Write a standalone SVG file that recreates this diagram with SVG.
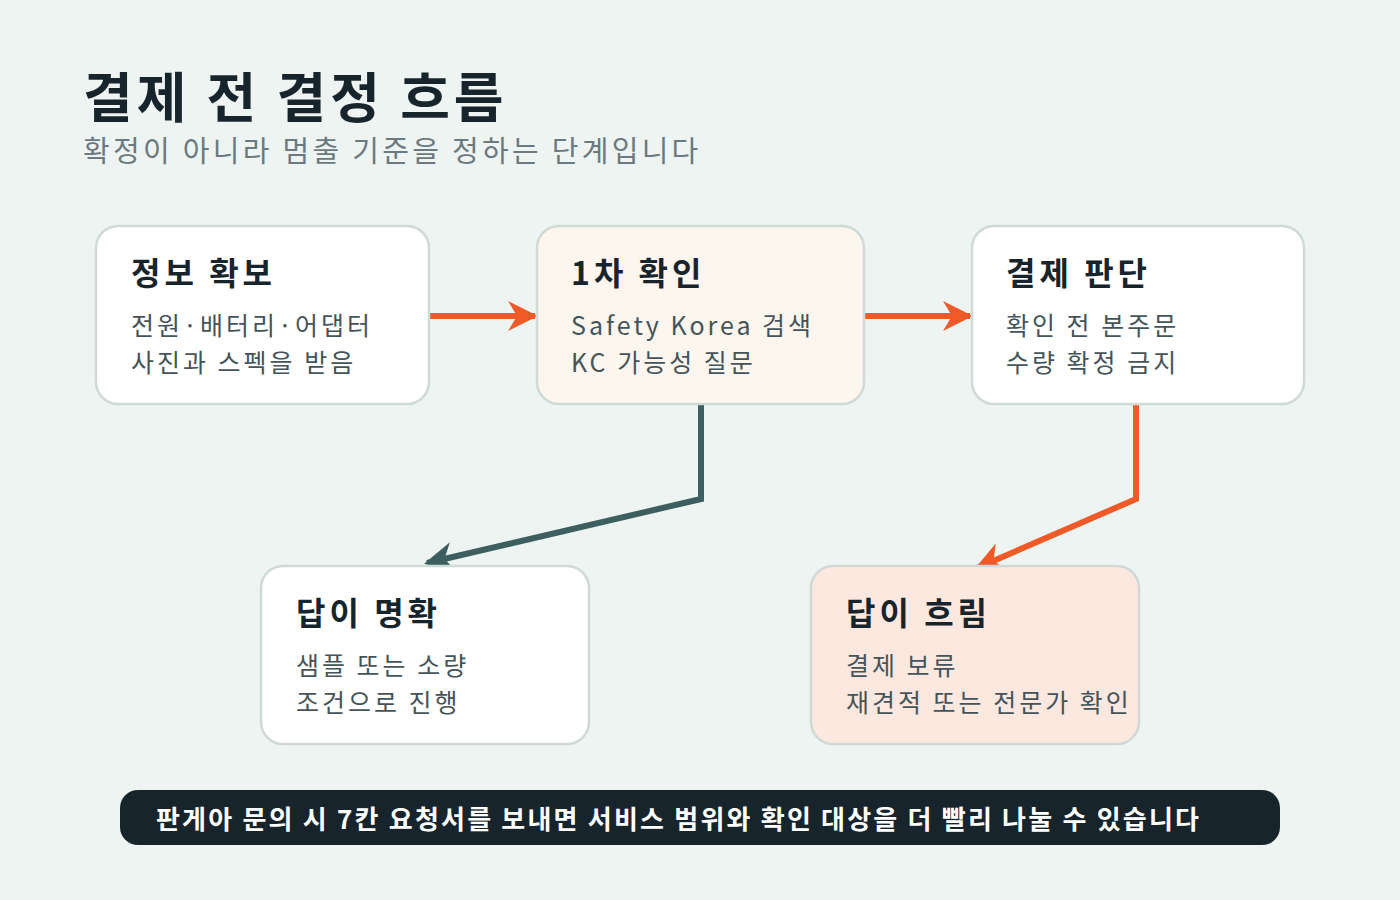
<svg xmlns="http://www.w3.org/2000/svg" width="1400" height="900" viewBox="0 0 1400 900">
<style>
text{font-family:"Noto Sans CJK KR","Noto Sans",sans-serif}
.t{font-size:32px;font-weight:700;fill:#18242c;letter-spacing:4px}
.l{font-size:25px;fill:#44545a;letter-spacing:3px}
.box{stroke:#cfd9d6;stroke-width:2.5}
.or{stroke:#f05a28;stroke-width:6;fill:none}
.te{stroke:#3d5f5f;stroke-width:6;fill:none}
</style>
<defs>
<marker id="ao" viewBox="0 0 10 10" refX="9" refY="5" markerWidth="5" markerHeight="5" orient="auto" markerUnits="strokeWidth"><path d="M0,0L10,5L0,10L3,5z" fill="#f05a28"/></marker>
<marker id="at" viewBox="0 0 10 10" refX="9" refY="5" markerWidth="5" markerHeight="5" orient="auto" markerUnits="strokeWidth"><path d="M0,0L10,5L0,10L3,5z" fill="#3d5f5f"/></marker>
</defs>
<rect width="1400" height="900" fill="#eef4f1"/>
<text x="83" y="118" font-size="54" font-weight="700" fill="#18242c" letter-spacing="4">결제 전 결정 흐름</text>
<text x="83" y="162" font-size="29" fill="#6b7a80" letter-spacing="3.3">확정이 아니라 멈출 기준을 정하는 단계입니다</text>
<g id="connectors">
<path class="or" d="M429,316H535" marker-end="url(#ao)"/>
<path class="or" d="M864,316H970" marker-end="url(#ao)"/>
<path class="te" d="M701,404V499L427,563" marker-end="url(#at)"/>
<path class="or" d="M1136,404V499L977,568" marker-end="url(#ao)"/>
</g>
<g id="n1"><rect class="box" x="96" y="226" width="333" height="178" rx="22" fill="#fff"/>
<text class="t" x="131" y="285">정보 확보</text><text class="l" x="131" y="335">전원·배터리·어댑터</text><text class="l" x="131" y="372">사진과 스펙을 받음</text></g>
<g id="n2"><rect class="box" x="537" y="226" width="327" height="178" rx="22" fill="#fdf6ee"/>
<text class="t" x="571" y="285">1차 확인</text><text class="l" x="571" y="335" letter-spacing="1">Safety Korea 검색</text><text class="l" x="571" y="372">KC 가능성 질문</text></g>
<g id="n3"><rect class="box" x="972" y="226" width="332" height="178" rx="22" fill="#fff"/>
<text class="t" x="1006" y="285">결제 판단</text><text class="l" x="1006" y="335">확인 전 본주문</text><text class="l" x="1006" y="372">수량 확정 금지</text></g>
<g id="n4"><rect class="box" x="261" y="566" width="328" height="178" rx="22" fill="#fff"/>
<text class="t" x="296" y="625">답이 명확</text><text class="l" x="296" y="675">샘플 또는 소량</text><text class="l" x="296" y="712">조건으로 진행</text></g>
<g id="n5"><rect class="box" x="811" y="566" width="328" height="178" rx="22" fill="#fde8e0"/>
<text class="t" x="846" y="625">답이 흐림</text><text class="l" x="846" y="675">결제 보류</text><text class="l" x="846" y="712">재견적 또는 전문가 확인</text></g>
<g id="footer"><rect x="120" y="790" width="1160" height="55" rx="18" fill="#18242c"/>
<text x="156" y="829" font-size="26" font-weight="700" fill="#fff" letter-spacing="2.2">판게아 문의 시 7칸 요청서를 보내면 서비스 범위와 확인 대상을 더 빨리 나눌 수 있습니다</text></g>
</svg>
